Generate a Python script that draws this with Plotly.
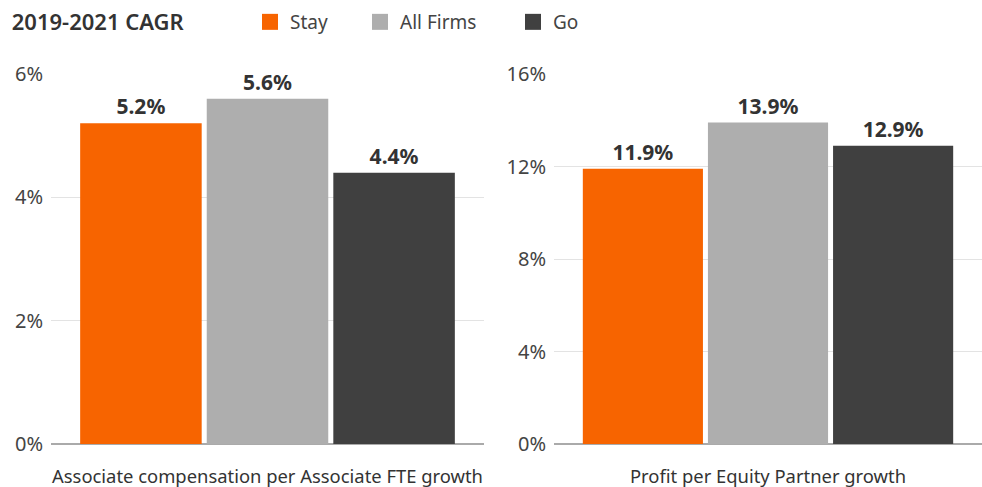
import plotly.graph_objects as go
from plotly.subplots import make_subplots

series = ["Stay", "All Firms", "Go"]
colors = ["#f76400", "#aeaeae", "#404040"]

left_category = "Associate compensation per Associate FTE growth"
left_values = [5.2, 5.6, 4.4]
left_ticks = [0, 2, 4, 6]

right_category = "Profit per Equity Partner growth"
right_values = [11.9, 13.9, 12.9]
right_ticks = [0, 4, 8, 12, 16]

FONT = "Noto Sans"
TEXT = "#333333"

fig = make_subplots(rows=1, cols=2)
for i, name in enumerate(series):
    for col, cat, vals in ((1, left_category, left_values), (2, right_category, right_values)):
        fig.add_trace(
            go.Bar(
                x=[cat],
                y=[vals[i]],
                name=name,
                marker={"color": colors[i], "line": {"width": 0}},
                texttemplate="<b>%{y:.1f}%</b>",
                textposition="outside",
                textfont={"size": 21, "color": TEXT, "family": FONT},
                cliponaxis=False,
                showlegend=False,
            ),
            row=1,
            col=col,
        )

# legend entries with larger square swatches, one legend per entry so the spacing matches
legend_names = ["legend", "legend2", "legend3"]
legend_x = [250, 360, 513]
for i, name in enumerate(series):
    fig.add_trace(
        go.Scatter(
            x=[None],
            y=[None],
            mode="markers",
            name=name,
            marker={"symbol": "square", "size": 20, "color": colors[i], "line": {"width": 0}},
            legend=legend_names[i],
            showlegend=True,
        ),
        row=1,
        col=1,
    )

legend_style = {
    "orientation": "h",
    "xanchor": "left",
    "y": 1 - 22 / 487,
    "yref": "container",
    "yanchor": "middle",
    "font": {"size": 19, "color": "#444444", "family": FONT},
    "bgcolor": "rgba(0,0,0,0)",
}

fig.update_layout(
    width=982,
    height=487,
    barmode="group",
    bargap=0.123,
    bargroupgap=0.04,
    plot_bgcolor="white",
    paper_bgcolor="white",
    font={"family": FONT, "size": 18, "color": "#444444"},
    margin={"l": 0, "r": 0, "t": 74, "b": 43},
    title={
        "text": "2019-2021 CAGR",
        "x": 0.012,
        "xanchor": "left",
        "y": 1 - 22 / 487,
        "yanchor": "middle",
        "yref": "container",
        "font": {"size": 22, "color": TEXT, "family": FONT, "weight": 600},
    },
    legend={**legend_style, "x": legend_x[0] / 982},
    legend2={**legend_style, "x": legend_x[1] / 982},
    legend3={**legend_style, "x": legend_x[2] / 982},
)

fig.update_xaxes(showgrid=False, showline=False, ticks="", ticklabelstandoff=20,
                 automargin=False, tickfont={"size": 18.4, "color": TEXT})
fig.update_xaxes(domain=[51 / 982, 484 / 982], row=1, col=1)
fig.update_xaxes(domain=[554 / 982, 1.0], row=1, col=2)

fig.update_yaxes(
    showgrid=True,
    gridcolor="#e3e3e3",
    gridwidth=1,
    zeroline=True,
    zerolinecolor="#aaaaaa",
    zerolinewidth=2,
    ticks="",
    ticklabelstandoff=7,
    automargin=False,
    tickfont={"size": 20, "color": "#444444"},
)
fig.update_yaxes(range=[0, 6], tickvals=left_ticks,
                 ticktext=[f"{v}%" for v in left_ticks], row=1, col=1)
fig.update_yaxes(range=[0, 16], tickvals=right_ticks,
                 ticktext=[f"{v}%" for v in right_ticks], row=1, col=2)

fig.write_html("out.html", config={"displayModeBar": False},
               post_script="document.body.style.margin = '0';")
